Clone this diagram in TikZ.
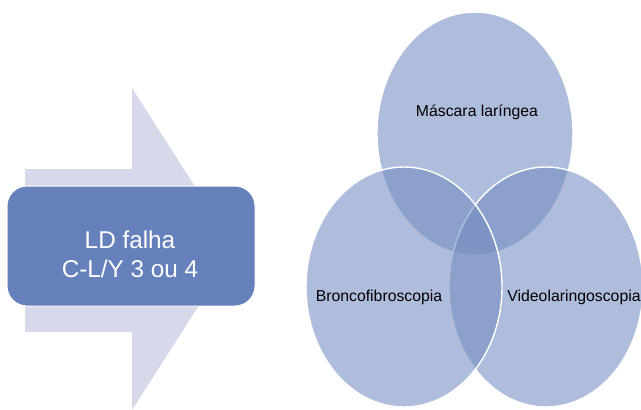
\documentclass[tikz,border=0pt]{standalone}
\usepackage{fontspec}
\setmainfont{Liberation Sans}
\usetikzlibrary{shapes.geometric}
\definecolor{arrowcol}{HTML}{D5D9E9}
\definecolor{boxcol}{HTML}{6680BB}
\definecolor{venncol}{HTML}{718AC0}
\tikzset{
  vennset/.style={fill=venncol, fill opacity=0.56, draw=white, line width=1.4pt},
  vennlabel/.style={font=\fontsize{15.8}{18}\selectfont, text=black, inner sep=0pt},
  boxtext/.style={font=\fontsize{24.3}{29}\selectfont, text=white, align=center, inner sep=0pt}
}
\begin{document}
\begin{tikzpicture}[x=1pt,y=-1pt]
\useasboundingbox (0,0) rectangle (641,410);
% big background arrow
\fill[arrowcol] (25,169) -- (132,169) -- (132,88) -- (235,249) -- (132,410) -- (132,332) -- (25,332) -- cycle;
% rounded box
\node[draw=white, line width=1pt, fill=boxcol, rounded corners=20pt, minimum width=248pt, minimum height=120pt, inner sep=0pt] (box) at (131,246) {};
\node[boxtext] (boxlabel) at (130,254.5) {LD falha\\C-L/Y 3 ou 4};
% Venn ellipses
\path[vennset] (475,133.5) ellipse [x radius=98, y radius=121.5];
\path[vennset] (546,287) ellipse [x radius=97, y radius=120];
\path[vennset] (404,287) ellipse [x radius=98, y radius=120];
\node[vennlabel] (mascara) at (477,112) {Máscara laríngea};
\node[vennlabel] (bronco) at (379,297) {Broncofibroscopia};
\node[vennlabel] (video) at (574,297) {Videolaringoscopia};
\end{tikzpicture}
\end{document}
